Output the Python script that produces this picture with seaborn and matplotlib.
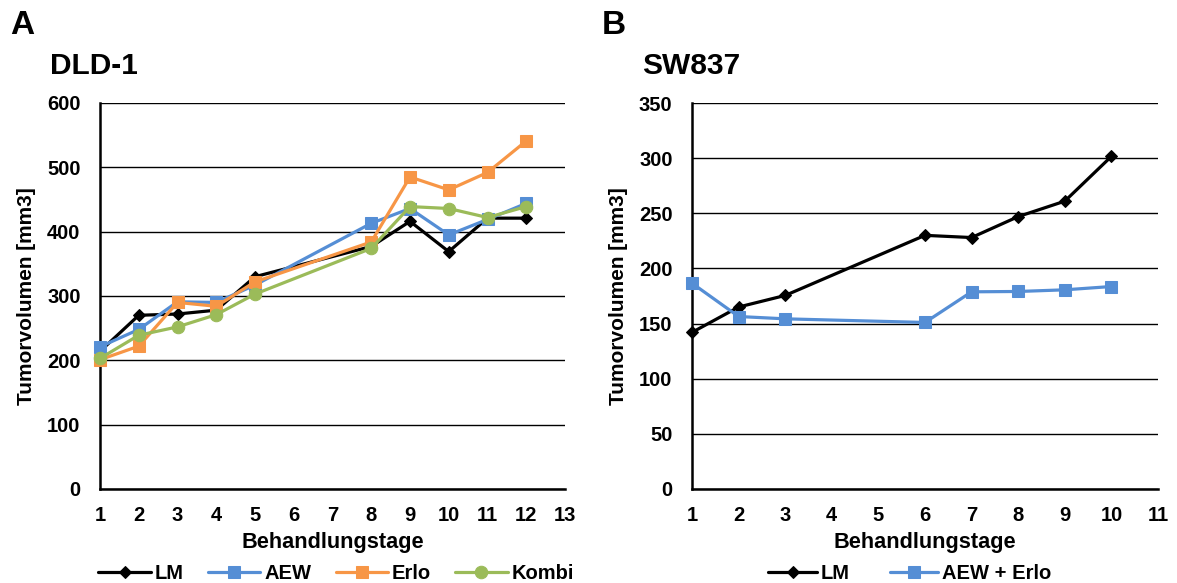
import matplotlib
matplotlib.use("Agg")
import matplotlib.pyplot as plt
import seaborn as sns
import numpy as np

sns.set_theme(style="white")
plt.rcParams['font.family'] = ['Liberation Sans', 'DejaVu Sans']
plt.rcParams['font.weight'] = 'bold'
plt.rcParams['text.color'] = 'black'
plt.rcParams['axes.labelcolor'] = 'black'
plt.rcParams['xtick.color'] = 'black'
plt.rcParams['ytick.color'] = 'black'

# Panel A: DLD-1
days_a = [1, 2, 3, 4, 5, 8, 9, 10, 11, 12]
lm_a = [214, 270, 272, 278, 330, 377, 416, 369, 421, 421]
aew_a = [221, 248, 291, 290, 317, 413, 436, 395, 419, 444]
erlo_a = [201, 222, 290, 284, 322, 384, 485, 465, 492, 541]
kombi_a = [203, 239, 252, 271, 303, 374, 439, 436, 422, 439]

# Panel B: SW837
days_b = [1, 2, 3, 6, 7, 8, 9, 10]
lm_b = [142, 165, 175.5, 230, 228, 247, 261, 301.6]
aewerlo_b = [186.6, 156.4, 154.3, 151, 178.8, 179.1, 180.6, 183.6]

BLACK = "#000000"
BLUE = "#558ED5"
ORANGE = "#F79646"
GREEN = "#9BBB59"

fig = plt.figure(figsize=(11.77, 5.83), dpi=100)
axA = fig.add_axes([100/1177, 1-489/583, 465/1177, 386/583])
axB = fig.add_axes([692/1177, 1-489/583, 466/1177, 386/583])

def draw(ax, x, y, color, marker, label, ms):
    sns.lineplot(x=x, y=y, ax=ax, color=color, marker=marker, markersize=ms,
                 markeredgecolor=color, markerfacecolor=color, linewidth=2.3,
                 label=label, clip_on=False, zorder=3)

draw(axA, days_a, lm_a, BLACK, "D", "LM", 6)
draw(axA, days_a, aew_a, BLUE, "s", "AEW", 8.5)
draw(axA, days_a, erlo_a, ORANGE, "s", "Erlo", 8.5)
draw(axA, days_a, kombi_a, GREEN, "o", "Kombi", 9)

draw(axB, days_b, lm_b, BLACK, "D", "LM", 6)
draw(axB, days_b, aewerlo_b, BLUE, "s", "AEW + Erlo", 8.5)

def style(ax, xmax, ymax, ystep):
    ax.set_xlim(1, xmax)
    ax.set_ylim(0, ymax)
    ax.set_xticks(np.arange(1, xmax + 1))
    ax.set_yticks(np.arange(0, ymax + 1, ystep))
    ax.yaxis.grid(True, color="black", linewidth=1.0)
    ax.xaxis.grid(False)
    ax.set_axisbelow(True)
    for s in ["top", "right"]:
        ax.spines[s].set_visible(False)
    for s in ["left", "bottom"]:
        ax.spines[s].set_color("black")
        ax.spines[s].set_linewidth(1.8)
    ax.tick_params(axis="both", which="major", direction="out", length=5,
                   width=1.5, color="black", labelsize=14.5)
    ax.tick_params(axis="x", pad=7)
    ax.tick_params(axis="y", pad=9)
    for lbl in ax.get_xticklabels() + ax.get_yticklabels():
        lbl.set_fontweight("bold")
    ax.set_xlabel("Behandlungstage", fontsize=15.7, fontweight="bold", labelpad=5)
    ax.set_ylabel("Tumorvolumen [mm3]", fontsize=15, fontweight="bold", labelpad=8)

style(axA, 13, 600, 100)
style(axB, 11, 350, 50)

legA = axA.legend(loc="center", bbox_to_anchor=(0.508, -0.22), ncol=4,
                  frameon=False, handlelength=2.6, columnspacing=1.2,
                  handletextpad=0.2, borderpad=0, prop={"weight": "bold", "size": 14.5})
legB = axB.legend(loc="center", bbox_to_anchor=(0.468, -0.22), ncol=2,
                  frameon=False, handlelength=2.4, columnspacing=2.0,
                  handletextpad=0.2, borderpad=0, prop={"weight": "bold", "size": 14.5})

fig.text(10/1177, 1-26/583, "A", fontsize=24, fontweight="bold", va="center", ha="left")
fig.text(602/1177, 1-26/583, "B", fontsize=24, fontweight="bold", va="center", ha="left")
fig.text(50/1177, 1-66/583, "DLD-1", fontsize=21.5, fontweight="bold", va="center", ha="left")
fig.text(642/1177, 1-66/583, "SW837", fontsize=21.5, fontweight="bold", va="center", ha="left")

fig.savefig("out.png", dpi=100)
